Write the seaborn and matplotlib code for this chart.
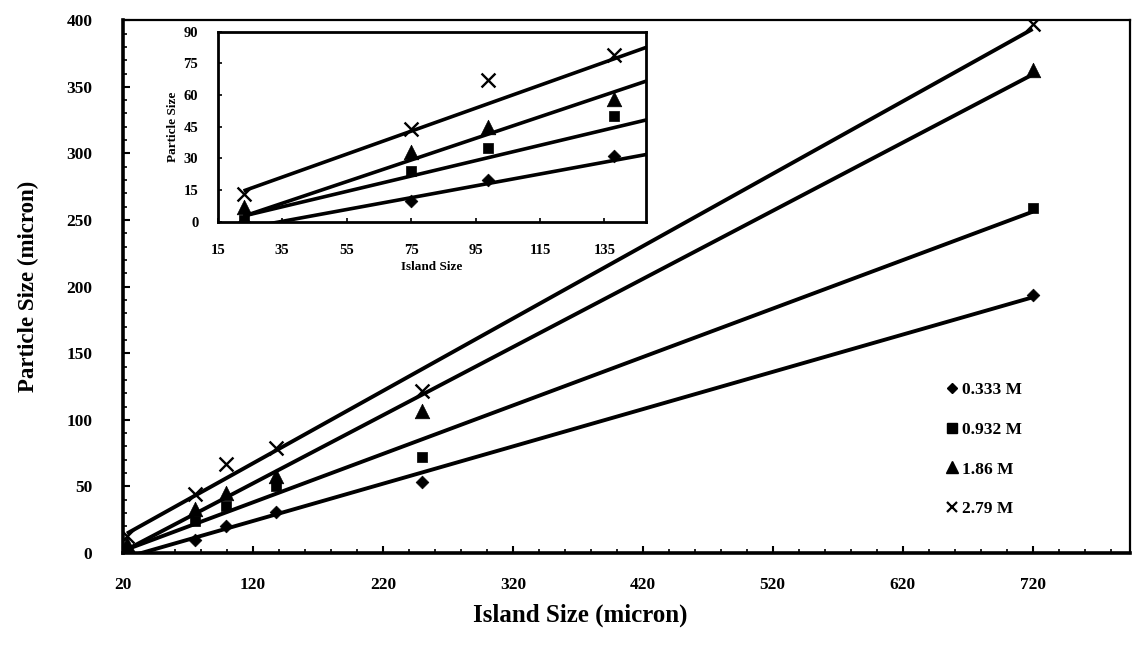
import numpy as np
import pandas as pd
import matplotlib
matplotlib.use("Agg")
import matplotlib.pyplot as plt
import seaborn as sns
from matplotlib.ticker import MultipleLocator
from matplotlib.lines import Line2D

# ---------------- data ----------------
island_size = [23, 75, 99, 138, 250, 720]
p_0333 = [0, 10, 20, 31, 53, 194]
p_0932 = [1, 24, 35, 50, 72, 259]
p_186 = [7, 33, 45, 58, 107, 363]
p_279 = [13, 44, 67, 79, 122, 397]
series_labels = ["0.333 M", "0.932 M", "1.86 M", "2.79 M"]

main_xticks = [20, 120, 220, 320, 420, 520, 620, 720]
main_yticks = [0, 50, 100, 150, 200, 250, 300, 350, 400]
inset_xticks = [15, 35, 55, 75, 95, 115, 135]
inset_yticks = [0, 15, 30, 45, 60, 75, 90]

# ---------------- style ----------------
sns.set_theme(style="ticks")
plt.rcParams["font.family"] = ["Liberation Serif", "DejaVu Serif"]
plt.rcParams["font.weight"] = "bold"
plt.rcParams["text.color"] = "black"
plt.rcParams["axes.labelcolor"] = "black"
plt.rcParams["xtick.color"] = "black"
plt.rcParams["ytick.color"] = "black"

df = pd.DataFrame({
    "x": island_size * 4,
    "y": p_0333 + p_0932 + p_186 + p_279,
    "conc": sum([[lab] * len(island_size) for lab in series_labels], []),
})

markers = {"0.333 M": "D", "0.932 M": "s", "1.86 M": "^", "2.79 M": "x"}
msize = {"0.333 M": 42, "0.932 M": 58, "1.86 M": 110, "2.79 M": 100}

fig = plt.figure(figsize=(11.34, 6.45), dpi=100)
ax = fig.add_axes([0.1085, 0.1426, 0.888, 0.826])
ins = fig.add_axes([0.192, 0.656, 0.378, 0.295])


def draw(a, lw_line):
    for lab in series_labels:
        sub = df[df["conc"] == lab]
        sns.regplot(data=sub, x="x", y="y", ax=a, scatter=False, ci=None,
                    truncate=True, color="black",
                    line_kws={"lw": lw_line, "solid_capstyle": "butt"})
        kw = {"linewidth": 1.7} if lab == "2.79 M" else {"edgecolor": "black", "linewidth": 0.5}
        sns.scatterplot(data=sub, x="x", y="y", ax=a, marker=markers[lab],
                        s=msize[lab], color="black", zorder=5, legend=False, **kw)


# ---------------- main axes ----------------
ax.set_xlim(20, 795)
ax.set_ylim(0, 400)
draw(ax, 2.8)
ax.set_xticks(main_xticks)
ax.set_yticks(main_yticks)
ax.xaxis.set_minor_locator(MultipleLocator(20))
ax.yaxis.set_minor_locator(MultipleLocator(10))
ax.tick_params(which="both", direction="in", colors="black")
ax.tick_params(which="major", length=5, width=1.5, labelsize=12.5, pad=17)
ax.tick_params(axis="y", which="major", pad=22)
ax.tick_params(which="minor", length=3, width=1.2)
for lab in ax.get_xticklabels() + ax.get_yticklabels():
    lab.set_fontweight("bold")
for s in ["left", "bottom"]:
    ax.spines[s].set_linewidth(2.6)
for s in ["top", "right"]:
    ax.spines[s].set_linewidth(1.6)
for s in ax.spines.values():
    s.set_color("black")
ax.set_xlabel("Island Size (micron)", fontsize=18, fontweight="bold", color="black")
ax.set_ylabel("Particle Size (micron)", fontsize=16.5, fontweight="bold", color="black")
ax.xaxis.set_label_coords(0.454, -0.095)
ax.yaxis.set_label_coords(-0.083, 0.5)

handles = []
for lab in series_labels:
    if lab == "2.79 M":
        h = Line2D([], [], ls="none", marker="x", color="black", markersize=7, mew=1.6)
    else:
        h = Line2D([], [], ls="none", marker=markers[lab], color="black",
                   markersize={"0.333 M": 5.5, "0.932 M": 7, "1.86 M": 9}[lab])
    handles.append(h)
leg = ax.legend(handles, series_labels, loc="upper left", bbox_to_anchor=(0.803, 0.35),
                frameon=False, handlelength=0.6, handletextpad=0.25, labelspacing=1.35,
                prop={"size": 12.5, "weight": "bold"})
for t in leg.get_texts():
    t.set_color("black")

# ---------------- inset ----------------
ins.set_xlim(15, 148)
ins.set_ylim(0, 90)
draw(ins, 2.6)
ins.set_xticks(inset_xticks)
ins.set_yticks(inset_yticks)
ins.tick_params(which="both", direction="in", colors="black", length=3, width=1.2,
                labelsize=10.5, pad=16)
ins.tick_params(axis="y", pad=14)
for lab in ins.get_xticklabels() + ins.get_yticklabels():
    lab.set_fontweight("bold")
for s in ins.spines.values():
    s.set_linewidth(2.0)
    s.set_color("black")
ins.set_xlabel("Island Size", fontsize=9.5, fontweight="bold", labelpad=3, color="black")
ins.set_ylabel("Particle Size", fontsize=9.5, fontweight="bold", labelpad=3, color="black")
ins.set_facecolor("white")

fig.savefig("out.png", dpi=100, facecolor="white")
